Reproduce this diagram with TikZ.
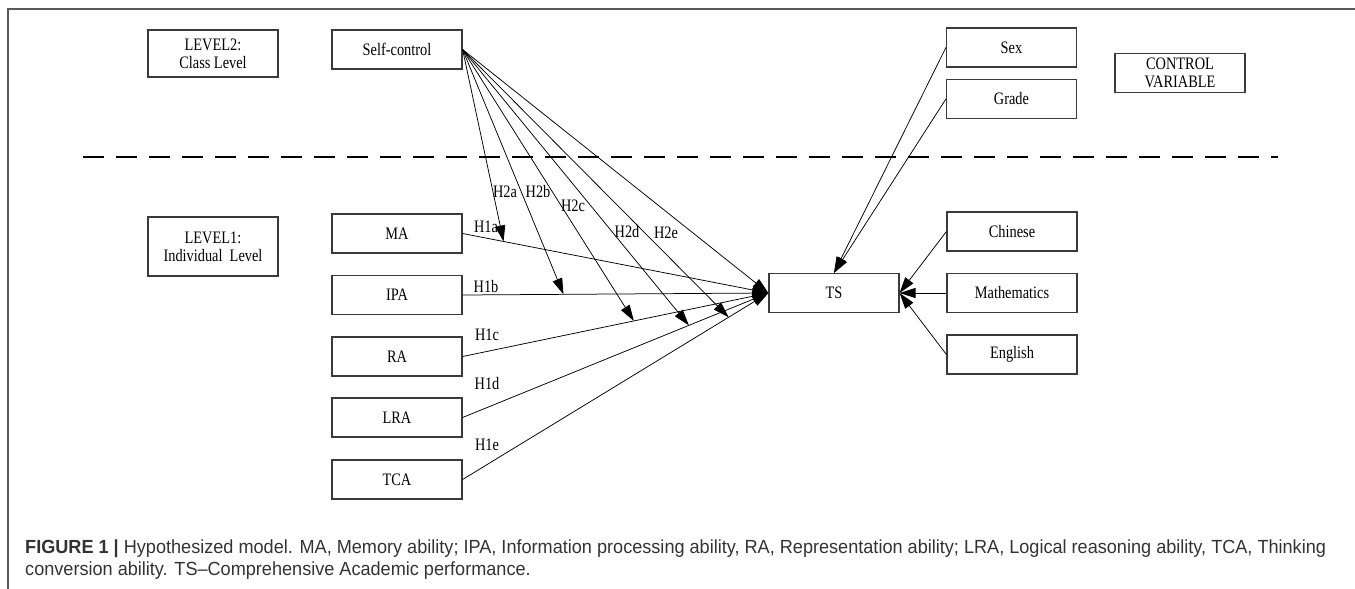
\documentclass[tikz,border=0pt]{standalone}
\usepackage{fontspec}
\setmainfont{Liberation Serif}
\newfontfamily\capfont[FakeStretch=0.953]{Liberation Sans}
\newfontfamily\boxfont[FakeStretch=0.82]{Liberation Serif}
\usetikzlibrary{arrows.meta,calc}
\definecolor{capgray}{HTML}{333333}
\definecolor{linegray}{HTML}{3A3A3A}
\tikzset{
  box/.style={draw=linegray, line width=1.2pt, minimum width=130pt, minimum height=39pt, inner sep=0pt, align=center, font=\boxfont\fontsize{17.5}{18}\selectfont},
  arr/.style={draw=black, line width=0.75pt, -{Triangle[length=16pt,width=10pt]}},
  lab/.style={inner sep=0pt, font=\boxfont\fontsize{17.5}{18}\selectfont},
  frame/.style={draw=black!65, line width=1.3pt},
  levelline/.style={draw=black, line width=2.8pt, dash pattern=on 21pt off 12pt},
  captext/.style={inner sep=0pt, anchor=base west, text=capgray, font=\capfont\fontsize{19}{22}\selectfont}
}
\begin{document}
\begin{tikzpicture}[x=1pt,y=-1pt]
\useasboundingbox (0,0) rectangle (1355,589);
% frame
\draw[frame] (8,589) -- (8,9) -- (1355,9);
% level separator
\draw[levelline] (83,157) -- (1278,157);
% boxes
\node[box, minimum height=47pt] (L2) at (213,53.5) {LEVEL2:\\Class Level};
\node[box] (SC) at (397,49.5) {Self-control};
\node[box, minimum height=59pt] (L1) at (213,246.5) {LEVEL1:\\Individual\ \ Level};
\node[box] (MA) at (397,233.5) {MA};
\node[box] (IPA) at (397,295) {IPA};
\node[box] (RA) at (397,356.5) {RA};
\node[box] (LRA) at (397,417.5) {LRA};
\node[box] (TCA) at (397,479.5) {TCA};
\node[box] (Sex) at (1011.5,47.5) {Sex};
\node[box] (Grade) at (1011.5,99) {Grade};
\node[box] (CV) at (1180,73) {CONTROL\\VARIABLE};
\node[box] (Chi) at (1012,231.5) {Chinese};
\node[box] (Mat) at (1012,293) {Mathematics};
\node[box] (Eng) at (1012,354.5) {English};
\node[box] (TS) at (834,293) {TS};
% level-1 paths
\draw[arr] (MA.east) -- (TS.west);
\draw[arr] (IPA.east) -- (TS.west);
\draw[arr] (RA.east) -- (TS.west);
\draw[arr] (LRA.east) -- (TS.west);
\draw[arr] (TCA.east) -- (TS.west);
\draw[arr] (SC.east) -- (TS.west);
% cross-level moderation
\coordinate (ma) at ($(MA.east)!0.134!(TS.west)$);
\coordinate (ipa) at ($(IPA.east)!0.33!(TS.west)$);
\coordinate (ra) at ($(RA.east)!0.56!(TS.west)$);
\coordinate (lra) at ($(LRA.east)!0.74!(TS.west)$);
\coordinate (tca) at ($(TCA.east)!0.87!(TS.west)$);
\draw[arr] (SC.east) -- (ma);
\draw[arr] (SC.east) -- (ipa);
\draw[arr] (SC.east) -- (ra);
\draw[arr] (SC.east) -- (lra);
\draw[arr] (SC.east) -- (tca);
% controls
\draw[arr] (Sex.west) -- (TS.north);
\draw[arr] (Grade.west) -- (TS.north);
\draw[arr] (Chi.west) -- (TS.east);
\draw[arr] (Mat.west) -- (TS.east);
\draw[arr] (Eng.west) -- (TS.east);
% labels
\node[lab] (h1a) at (486,227) {H1a};
\node[lab] (h1b) at (486,287) {H1b};
\node[lab] (h1c) at (487,335) {H1c};
\node[lab] (h1d) at (487,384) {H1d};
\node[lab] (h1e) at (487,445) {H1e};
\node[lab] (h2a) at (505,192) {H2a};
\node[lab] (h2b) at (538,192) {H2b};
\node[lab] (h2c) at (573,206) {H2c};
\node[lab] (h2d) at (627,232) {H2d};
\node[lab] (h2e) at (666,233) {H2e};
% caption
\node[captext] (cap1) at (25,553) {\textbf{FIGURE 1 |} Hypothesized model. MA, Memory ability; IPA, Information processing ability, RA, Representation ability; LRA, Logical reasoning ability, TCA, Thinking};
\node[captext] (cap2) at (25,575.5) {conversion ability. TS–Comprehensive Academic performance.};
\end{tikzpicture}
\end{document}
